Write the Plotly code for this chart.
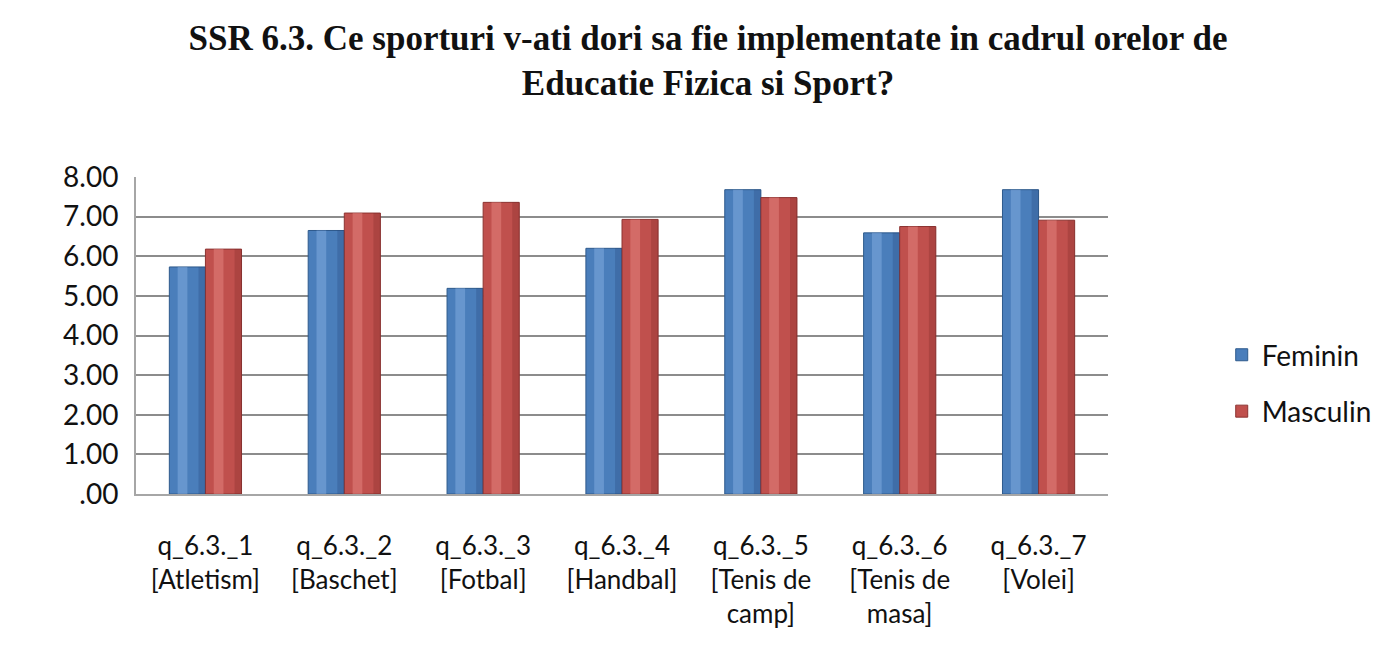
import plotly.graph_objects as go

# SSR 6.3 - sporturi dorite la orele de Educatie Fizica si Sport
categories = [
    "q_6.3._1<br>[Atletism]",
    "q_6.3._2<br>[Baschet]",
    "q_6.3._3<br>[Fotbal]",
    "q_6.3._4<br>[Handbal]",
    "q_6.3._5<br>[Tenis de<br>camp]",
    "q_6.3._6<br>[Tenis de<br>masa]",
    "q_6.3._7<br>[Volei]",
]
feminin = [5.73, 6.65, 5.19, 6.20, 7.68, 6.59, 7.68]
masculin = [6.18, 7.09, 7.36, 6.93, 7.48, 6.75, 6.91]
y_ticks = [0, 1, 2, 3, 4, 5, 6, 7, 8]
y_tick_labels = [".00", "1.00", "2.00", "3.00", "4.00", "5.00", "6.00", "7.00", "8.00"]

x_font = dict(family="Lato, Open Sans, sans-serif", size=26, color="#111111")
y_font = dict(family="Lato, Open Sans, sans-serif", size=28, color="#111111")
legend_font = dict(family="Lato, Open Sans, sans-serif", size=28, color="#111111")

fig = go.Figure()

# base cylinders
fig.add_trace(go.Bar(name="Feminin", x=categories, y=feminin, legendgroup="f",
                     marker=dict(color="#4A7EBB", line=dict(color="#2E5A8C", width=1)),
                     width=0.26, offset=-0.26))
fig.add_trace(go.Bar(name="Masculin", x=categories, y=masculin, legendgroup="m",
                     marker=dict(color="#C0504D", line=dict(color="#8C3331", width=1)),
                     width=0.26, offset=0.0))

# highlight / shadow strips to give a rounded look
fig.add_trace(go.Bar(x=categories, y=feminin, showlegend=False, hoverinfo="skip",
                     marker=dict(color="rgba(140,180,230,0.45)", line=dict(width=0)),
                     width=0.07, offset=-0.20))
fig.add_trace(go.Bar(x=categories, y=masculin, showlegend=False, hoverinfo="skip",
                     marker=dict(color="rgba(235,140,135,0.45)", line=dict(width=0)),
                     width=0.07, offset=0.06))
fig.add_trace(go.Bar(x=categories, y=feminin, showlegend=False, hoverinfo="skip",
                     marker=dict(color="rgba(30,60,110,0.25)", line=dict(width=0)),
                     width=0.05, offset=-0.05))
fig.add_trace(go.Bar(x=categories, y=masculin, showlegend=False, hoverinfo="skip",
                     marker=dict(color="rgba(110,30,30,0.25)", line=dict(width=0)),
                     width=0.05, offset=0.21))

fig.update_layout(
    barmode="overlay",
    width=1400, height=653,
    paper_bgcolor="white", plot_bgcolor="white",
    margin=dict(l=128, r=300, t=169, b=167),
    title=dict(text="<b>SSR 6.3. Ce sporturi v-ati dori sa fie implementate in cadrul orelor de<br>Educatie Fizica si Sport?</b>",
               x=0.5, xanchor="center", y=0.936, yanchor="middle",
               font=dict(family="Liberation Serif, serif", size=35, color="#111111")),
    legend=dict(x=1.117, y=0.35, xanchor="left", yanchor="middle",
                font=legend_font, itemwidth=30, tracegroupgap=17),
    showlegend=True,
)

fig.update_xaxes(tickfont=x_font, showline=True, linecolor="#A6A6A6", linewidth=2,
                 ticks="", range=[-0.5, 6.5], ticklabelstandoff=28)
fig.update_yaxes(range=[0, 8], tickvals=y_ticks, ticktext=y_tick_labels, tickfont=y_font,
                 showgrid=True, gridcolor="#8C8C8C", gridwidth=2,
                 showline=True, linecolor="#A6A6A6", linewidth=2, ticks="",
                 ticklabelstandoff=10, zeroline=False)

fig.write_html("out.html")
